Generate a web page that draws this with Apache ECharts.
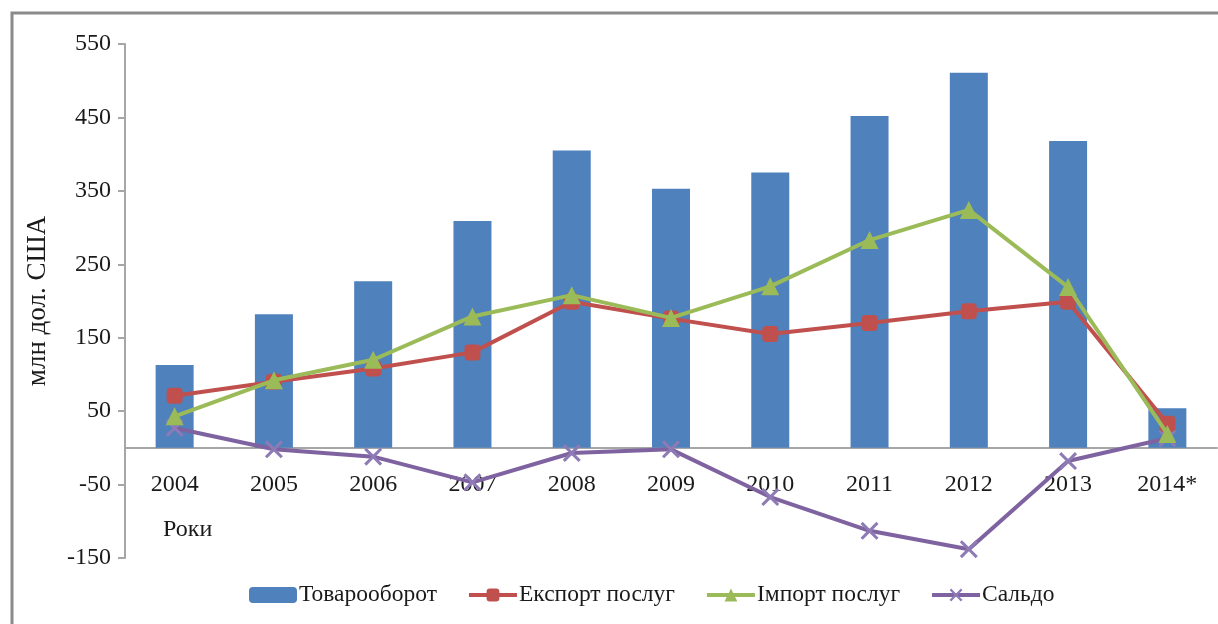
<!DOCTYPE html>
<html>
<head>
<meta charset="utf-8">
<script src="https://cdn.jsdelivr.net/npm/echarts@6/dist/echarts.min.js"></script>
<style>
  html, body { margin: 0; padding: 0; background: #fff; }
  #chart { width: 1218px; height: 624px; }
</style>
</head>
<body>
<div id="chart"></div>
<script>
// Years and series values, млн дол. США
const years = ['2004', '2005', '2006', '2007', '2008', '2009', '2010', '2011', '2012', '2013', '2014*'];
const turnover = [113, 182, 227, 309, 405, 353, 375, 452, 511, 418, 54];
const exportServices = [71, 90, 108, 130, 199, 176, 155, 170, 186, 199, 33];
const importServices = [43, 92, 120, 179, 208, 177, 220, 283, 324, 219, 19];
const balance = [27, -2, -12, -47, -7, -2, -67, -113, -138, -18, 13];

const seriesNames = ['Товарооборот', 'Експорт послуг', 'Імпорт послуг', 'Сальдо'];
const yTitle = 'млн дол. США';
const xTitle = 'Роки';

const yMin = -150, yMax = 550;
const colors = { bar: '#4f81bd', exp: '#c0504d', imp: '#9bbb59', bal: '#7f63a1' };

const serif = '"Liberation Serif", "DejaVu Serif", serif';
const crossSymbol = 'path://M0,1.2 L1.2,0 L5,3.8 L8.8,0 L10,1.2 L6.2,5 L10,8.8 L8.8,10 L5,6.2 L1.2,10 L0,8.8 L3.8,5 Z';

const gridTop = 44, gridBottom = 66, chartH = 624;
const plotH = chartH - gridTop - gridBottom;
// lift the category axis from the plot bottom up to the zero line
const zeroOffset = -plotH * (0 - yMin) / (yMax - yMin);

const chart = echarts.init(document.getElementById('chart'), null, { renderer: 'canvas' });

chart.setOption({
  animation: false,
  backgroundColor: '#ffffff',
  textStyle: { fontFamily: serif },
  grid: { left: 125, right: 1, top: gridTop, bottom: gridBottom },
  graphic: [
    {
      type: 'rect',
      shape: { x: 12, y: 13, width: 1230, height: 640 },
      style: { fill: 'none', stroke: '#8a8a8a', lineWidth: 3 },
      silent: true
    },
    {
      type: 'text',
      left: 163,
      top: 518,
      style: { text: xTitle, font: '24px ' + serif, fill: '#1a1a1a' }
    }
  ],
  legend: {
    left: 244,
    top: 578,
    itemWidth: 48,
    itemHeight: 16,
    itemGap: 30,
    textStyle: { fontFamily: serif, fontSize: 23.5, color: '#1a1a1a', padding: [0, 0, 0, -3] },
    data: [
      { name: seriesNames[0], itemStyle: { color: colors.bar } },
      { name: seriesNames[1], lineStyle: { color: colors.exp, width: 4 } },
      { name: seriesNames[2], lineStyle: { color: colors.imp, width: 4 } },
      { name: seriesNames[3], lineStyle: { color: colors.bal, width: 4 } }
    ]
  },
  xAxis: {
    type: 'category',
    data: years,
    offset: zeroOffset,
    axisLine: { onZero: false, lineStyle: { color: '#a6a6a6', width: 2 } },
    axisTick: { show: false },
    axisLabel: { fontFamily: serif, fontSize: 24, color: '#1a1a1a', margin: 25 },
    splitLine: { show: false }
  },
  yAxis: {
    type: 'value',
    min: yMin,
    max: yMax,
    interval: 100,
    name: yTitle,
    nameLocation: 'middle',
    nameRotate: 90,
    nameGap: 74,
    nameTextStyle: { fontFamily: serif, fontSize: 27, color: '#1a1a1a' },
    axisLine: { show: true, lineStyle: { color: '#a6a6a6', width: 2 } },
    axisTick: { show: true, length: 7, lineStyle: { color: '#a6a6a6', width: 2 } },
    axisLabel: { fontFamily: serif, fontSize: 24, color: '#1a1a1a', margin: 14 },
    splitLine: { show: false }
  },
  series: [
    {
      name: seriesNames[0],
      type: 'bar',
      data: turnover,
      barWidth: 38,
      itemStyle: { color: colors.bar },
      z: 1
    },
    {
      name: seriesNames[1],
      type: 'line',
      data: exportServices,
      symbol: 'roundRect',
      symbolSize: 16,
      lineStyle: { color: colors.exp, width: 4 },
      itemStyle: { color: colors.exp },
      z: 3
    },
    {
      name: seriesNames[2],
      type: 'line',
      data: importServices,
      symbol: 'triangle',
      symbolSize: 18,
      lineStyle: { color: colors.imp, width: 4 },
      itemStyle: { color: colors.imp },
      z: 4
    },
    {
      name: seriesNames[3],
      type: 'line',
      data: balance,
      symbol: crossSymbol,
      symbolSize: 18,
      lineStyle: { color: colors.bal, width: 4 },
      itemStyle: { color: '#8e7ab5' },
      z: 2
    }
  ]
});
</script>
</body>
</html>
